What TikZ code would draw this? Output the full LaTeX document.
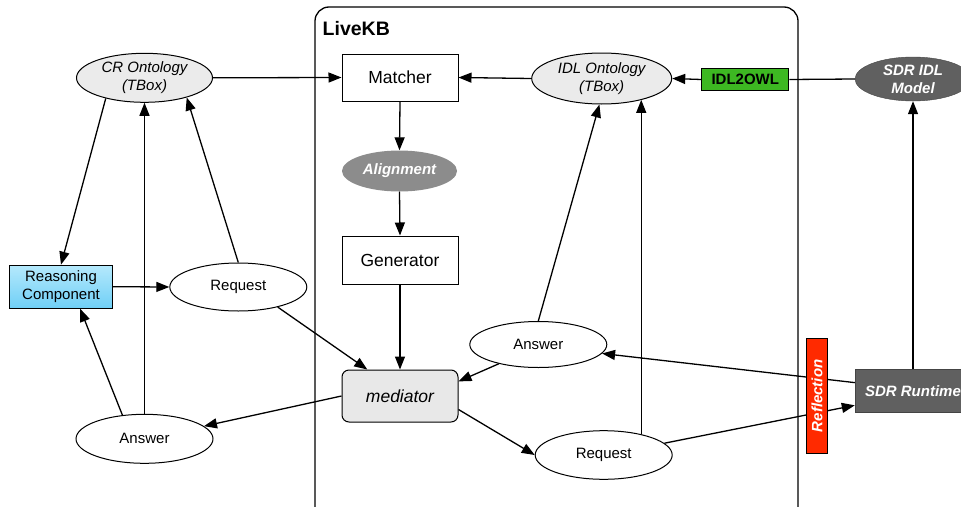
\documentclass[tikz,border=0pt]{standalone}
\usepackage{fontspec}
\setmainfont{Liberation Sans}
\usetikzlibrary{arrows.meta,shapes.geometric,calc}

\definecolor{ontofill}{HTML}{EBEBEB}
\definecolor{medfill}{HTML}{E8E8E8}
\definecolor{aligngray}{HTML}{8C8C8C}
\definecolor{sdrgray}{HTML}{606060}
\definecolor{sdredge}{HTML}{444444}
\definecolor{owlgreen}{HTML}{3DB822}
\definecolor{reflred}{HTML}{FF2A00}
\definecolor{rctop}{HTML}{B5E9FC}
\definecolor{rcbot}{HTML}{6FCFF6}

\begin{document}
\begin{tikzpicture}[x=1pt,y=-1pt,
  link/.style={line width=1.3pt,-{Triangle[length=13pt,width=10pt]}},
  plainlink/.style={line width=1.3pt},
  onto/.style={ellipse,draw,line width=1pt,fill=ontofill,minimum width=136pt,
    minimum height=49pt,inner sep=0pt,align=center,
    font=\fontsize{15}{18}\selectfont\itshape},
  msg/.style={ellipse,draw,line width=1pt,fill=white,minimum width=137pt,
    minimum height=48pt,inner sep=0pt,font=\fontsize{15}{18}\selectfont},
  proc/.style={rectangle,draw,line width=1pt,fill=white,minimum width=116pt,
    minimum height=47pt,inner sep=0pt,font=\fontsize{17.5}{21}\selectfont},
  darkbold/.style={text=white,font=\fontsize{15}{18}\selectfont\bfseries\itshape}
]
\useasboundingbox (0,0) rectangle (961,506);
\clip (0,0) rectangle (961,506);

% LiveKB container
\draw[line width=1.3pt,rounded corners=14pt] (315,7) rectangle (798,540);
\node[anchor=base west,inner sep=0pt,font=\fontsize{19.5}{22}\selectfont\bfseries]
  (livekb) at (322.5,35) {LiveKB};

% central pipeline
\node[proc] (matcher) at (400,77.5) {Matcher};
\node[ellipse,fill=aligngray,minimum width=115pt,minimum height=41pt,inner sep=0pt,
  darkbold] (align) at (399.5,171) {Alignment};
\node[proc,minimum height=48pt] (gen) at (400,260) {Generator};
\node[proc,rounded corners=7pt,fill=medfill,minimum height=52pt,
  font=\fontsize{17.5}{21}\selectfont\itshape] (med) at (400,396) {mediator};

% ontologies and models
\node[onto] (cro) at (144.5,77.8) {CR Ontology\\(TBox)};
\node[onto,minimum width=140pt,minimum height=51pt] (idlo) at (601.7,78.5) {IDL Ontology\\(TBox)};
\node[rectangle,draw,line width=1pt,fill=owlgreen,minimum width=87pt,minimum height=22.4pt,
  inner sep=0pt,font=\fontsize{15}{18}\selectfont\bfseries] (i2o) at (745.3,79.5) {IDL2OWL};
\node[ellipse,draw=sdredge,fill=sdrgray,minimum width=116pt,minimum height=44pt,inner sep=0pt,
  align=center,darkbold] (sdrm) at (913,79) {SDR IDL\\Model};

% left side
\node[rectangle,draw,line width=1pt,top color=rctop,bottom color=rcbot,minimum width=103pt,
  minimum height=43pt,inner sep=0pt,align=center,font=\fontsize{15}{18}\selectfont]
  (rc) at (61,286.7) {Reasoning\\Component};
\node[msg] (reqL) at (238.3,287) {Request};
\node[msg,minimum height=49pt] (ansL) at (144.5,438.8) {Answer};

% right side
\node[msg,minimum height=46pt] (ansR) at (538.3,344.5) {Answer};
\node[msg,minimum height=48.6pt] (reqR) at (603.7,455) {Request};
\node[rectangle,draw=sdredge,fill=sdrgray,minimum width=116pt,minimum height=43pt,
  inner sep=0pt,darkbold] (sdrr) at (913,390.8) {SDR Runtime};

% connectors
\draw[link] (cro.east) -- (matcher.west);
\draw[link] (idlo.west) -- (matcher.east);
\draw[link] (i2o.west) -- (idlo.east);
\draw[plainlink] (sdrm.west) -- (i2o.east);
\draw[link] (matcher.south) -- (align.north);
\draw[link] (align.south) -- (gen.north);
\draw[link] (gen.south) -- (med.north);
\draw[link] (cro.-152) -- (rc.north);
\draw[link] (ansL.north) -- (cro.south);
\draw[link] (reqL.north) -- (cro.-25);
\draw[link] (rc.east) -- (reqL.west);
\draw[link] (ansL.133) -- (rc.-49);
\draw[link] (reqL.-27) -- (med.141);
\draw[link] (med.west) -- (ansL.12);
\draw[link] (med.-13) -- (reqR.west);
\draw[link] (ansR.-154) -- (med.14);
\draw[link] (ansR.north) -- (idlo.-95);
\draw[link] (reqR.29) -- (reqR.29 |- idlo.-28);
\draw[link] (sdrr.172) -- (ansR.-8);
\draw[link] (reqR.11) -- (sdrr.194);
\draw[link] (sdrr.north) -- (sdrm.south);

% reflection bar over the runtime links
\node[rectangle,draw,line width=1pt,fill=reflred,rotate=90,minimum width=115pt,
  minimum height=21.7pt,inner sep=0pt,darkbold] (refl) at (817,395.8) {Reflection};
\end{tikzpicture}
\end{document}
